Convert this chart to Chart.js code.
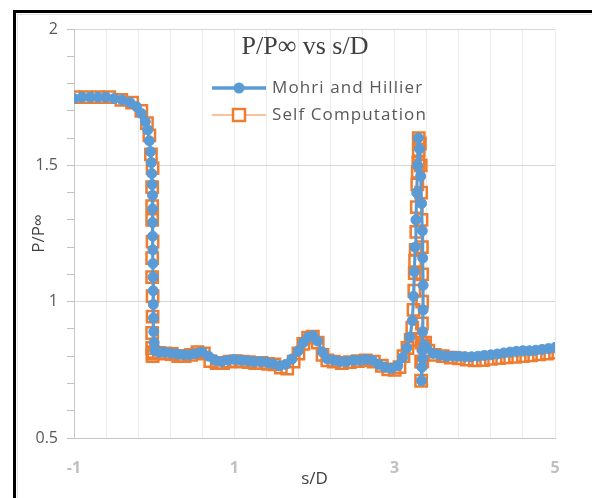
<!DOCTYPE html>
<html>
<head>
<meta charset="utf-8">
<script src="https://cdn.jsdelivr.net/npm/chart.js@4"></script>
<style>
  html, body { margin: 0; padding: 0; background: #fff; }
  #wrap { position: relative; width: 592px; height: 498px; overflow: hidden; }
  #frame { position: absolute; left: 13px; top: 10px; width: 700px; height: 700px;
           border-left: 3px solid #000; border-top: 3px solid #000; box-sizing: border-box; }
  #inner { position: absolute; left: 17px; top: 14px; width: 700px; height: 700px;
           border-left: 1px solid #e0e0e0; border-top: 1px solid #e0e0e0; box-sizing: border-box; }
  canvas { position: absolute; left: 0; top: 0; }
</style>
</head>
<body>
<div id="wrap">
  <div id="frame"></div>
  <div id="inner"></div>
  <canvas id="c" width="592" height="498"></canvas>
</div>
<script>
const chartTitle = 'P/P\u221E vs s/D';
const xTitle = 's/D';
const yTitle = 'P/P\u221E';
const seriesNames = ['Mohri and Hillier', 'Self Computation'];
const xTickLabels = [-1, 1, 3, 5];
const yTickLabels = [0.5, 1, 1.5, 2];

const mohriX = [-1.0,-0.9,-0.8,-0.7,-0.6,-0.5,-0.4,-0.3,-0.22,-0.16,-0.11,-0.08,-0.06,-0.045,-0.035,-0.03,-0.025,-0.02,-0.02,-0.02,-0.018,-0.016,-0.015,-0.013,-0.012,-0.01,-0.008,-0.005,0.0,0.01,
  0.06,0.12,0.2,0.28,0.36,0.44,0.52,0.6,0.68,0.76,0.84,0.92,1.0,1.08,1.16,1.24,1.32,1.4,1.48,1.56,1.64,1.72,
  1.8,1.86,1.92,1.98,2.04,2.1,2.16,
  2.24,2.32,2.4,2.48,2.56,2.64,2.72,2.8,2.88,2.96,3.04,3.1,3.15,3.19,
  3.22,3.235,3.245,3.255,3.265,3.275,3.285,3.295,
  3.31,3.325,3.335,3.345,3.35,3.355,3.355,3.35,3.345,3.34,
  3.335,3.35,3.37,3.4,
  3.48,3.56,3.64,3.72,3.8,3.88,3.96,4.04,4.12,4.2,4.28,4.36,4.44,4.52,4.6,4.68,4.76,4.84,4.92,5.0];
const mohriY = [1.745,1.75,1.75,1.75,1.75,1.745,1.74,1.73,1.715,1.69,1.66,1.63,1.59,1.55,1.51,1.47,1.43,1.39,1.34,1.29,1.24,1.19,1.14,1.09,1.04,0.99,0.94,0.89,0.85,0.82,
  0.815,0.815,0.812,0.808,0.805,0.805,0.81,0.815,0.80,0.785,0.78,0.785,0.788,0.785,0.783,0.78,0.78,0.778,0.772,0.765,0.77,0.79,
  0.82,0.85,0.87,0.875,0.855,0.815,0.79,
  0.785,0.78,0.78,0.785,0.785,0.788,0.785,0.77,0.76,0.755,0.765,0.795,0.83,0.87,
  0.93,1.02,1.11,1.2,1.3,1.4,1.5,1.6,
  1.56,1.46,1.36,1.26,1.16,1.06,0.97,0.89,0.82,0.76,
  0.71,0.79,0.84,0.83,
  0.81,0.805,0.80,0.80,0.80,0.798,0.798,0.80,0.803,0.805,0.808,0.812,0.815,0.818,0.82,0.82,0.822,0.825,0.828,0.832];

const selfX = [-0.99,-0.85,-0.7,-0.56,-0.41,-0.275,-0.16,-0.09,-0.06,-0.04,-0.02,-0.025,-0.025,-0.025,-0.02,-0.025,-0.025,-0.02,-0.02,-0.025,-0.025,-0.02,-0.02,-0.01,
  0.06,0.14,0.22,0.3,0.38,0.46,0.54,0.62,0.7,0.78,0.86,0.94,1.02,1.1,1.18,1.26,1.34,1.42,1.5,1.58,1.66,1.74,
  1.8,1.86,1.92,1.98,2.04,2.1,2.16,
  2.24,2.34,2.44,2.54,2.64,2.74,2.84,2.92,3.0,3.06,3.11,3.16,3.2,
  3.22,3.235,3.245,3.25,3.255,3.262,3.27,3.276,3.282,3.288,3.295,3.3,3.3,
  3.315,3.325,3.33,3.335,3.34,3.343,3.343,3.34,3.335,3.33,3.33,3.345,3.36,3.38,3.42,
  3.5,3.6,3.7,3.8,3.9,4.0,4.1,4.2,4.3,4.4,4.5,4.6,4.7,4.8,4.9,5.0];
const selfY = [1.75,1.75,1.75,1.75,1.74,1.73,1.70,1.655,1.61,1.54,1.49,1.42,1.35,1.30,1.22,1.16,1.09,1.02,0.945,0.885,0.83,0.81,0.80,0.815,
  0.812,0.81,0.808,0.80,0.80,0.805,0.815,0.81,0.782,0.775,0.775,0.78,0.782,0.78,0.778,0.775,0.775,0.772,0.77,0.758,0.755,0.78,
  0.81,0.845,0.868,0.872,0.85,0.805,0.785,
  0.78,0.775,0.778,0.782,0.785,0.78,0.765,0.752,0.75,0.76,0.80,0.83,0.86,
  0.905,0.97,1.04,1.105,1.15,1.19,1.256,1.347,1.43,1.476,1.51,1.556,1.60,
  1.58,1.50,1.40,1.30,1.20,1.10,1.00,0.92,0.85,0.78,0.71,0.78,0.84,0.85,0.82,
  0.805,0.80,0.795,0.792,0.788,0.785,0.786,0.79,0.793,0.796,0.798,0.80,0.803,0.807,0.81,0.813];

const blue = '#5b9bd5';
const orange = '#ed7d31';
const orangeLine = '#f4b183';

const toPts = (xs, ys) => xs.map((x, i) => ({ x: x, y: ys[i] }));

const overlay = {
  id: 'overlay',
  afterDraw(chart) {
    const ctx = chart.ctx;
    ctx.save();
    // title
    ctx.font = '26px "Liberation Serif"';
    ctx.fillStyle = '#404040';
    ctx.textAlign = 'center';
    ctx.textBaseline = 'middle';
    ctx.fillText(chartTitle, 305, 47);
    // legend
    const lx1 = 212, lx2 = 266, cx = 239, tx = 272;
    const rows = [88, 115];
    ctx.lineCap = 'butt';
    ctx.strokeStyle = blue; ctx.lineWidth = 3.5;
    ctx.beginPath(); ctx.moveTo(lx1, rows[0]); ctx.lineTo(lx2, rows[0]); ctx.stroke();
    ctx.fillStyle = blue;
    ctx.beginPath(); ctx.arc(cx, rows[0], 5.5, 0, Math.PI * 2); ctx.fill();
    ctx.strokeStyle = orangeLine; ctx.lineWidth = 1.5;
    ctx.beginPath(); ctx.moveTo(lx1, rows[1]); ctx.lineTo(lx2, rows[1]); ctx.stroke();
    ctx.fillStyle = '#fff';
    ctx.fillRect(cx - 6, rows[1] - 6, 12, 12);
    ctx.strokeStyle = orange; ctx.lineWidth = 2.5;
    ctx.strokeRect(cx - 6, rows[1] - 6, 12, 12);
    ctx.font = '17px "Open Sans"';
    if ('letterSpacing' in ctx) ctx.letterSpacing = '1.1px';
    ctx.fillStyle = '#595959';
    ctx.textAlign = 'left';
    ctx.textBaseline = 'middle';
    ctx.fillText(seriesNames[0], tx, rows[0]);
    ctx.fillText(seriesNames[1], tx, rows[1]);
    ctx.restore();
  }
};

const isNear = (v, list) => list.some(t => Math.abs(v - t) < 1e-6);

new Chart(document.getElementById('c'), {
  type: 'scatter',
  data: {
    datasets: [
      {
        label: seriesNames[0],
        data: toPts(mohriX, mohriY),
        showLine: true,
        borderColor: blue,
        backgroundColor: blue,
        borderWidth: 3,
        pointStyle: 'circle',
        pointRadius: 5,
        pointBackgroundColor: blue,
        pointBorderColor: blue,
        pointBorderWidth: 1
      },
      {
        label: seriesNames[1],
        data: toPts(selfX, selfY),
        showLine: true,
        borderColor: orangeLine,
        backgroundColor: 'rgba(0,0,0,0)',
        borderWidth: 1.5,
        pointStyle: 'rect',
        pointRadius: 8,
        pointBackgroundColor: 'rgba(0,0,0,0)',
        pointBorderColor: orange,
        pointBorderWidth: 2.5
      }
    ]
  },
  options: {
    responsive: false,
    animation: false,
    layout: { padding: { top: 29, right: 37, left: 0, bottom: 0 } },
    plugins: { legend: { display: false }, tooltip: { enabled: false }, title: { display: false } },
    scales: {
      x: {
        type: 'linear',
        min: -1, max: 5,
        afterFit(s) { s.height = 60; },
        ticks: {
          stepSize: 0.4,
          autoSkip: false,
          maxRotation: 0,
          padding: 21,
          color: '#c0c0c0',
          font: { family: 'Open Sans', size: 16, weight: 'bold' },
          callback: (v) => isNear(v, xTickLabels) ? String(Math.round(v)) : ''
        },
        grid: { color: '#ececec', drawTicks: false, lineWidth: 1 },
        border: { color: '#c8c8c8', width: 1 },
        title: { display: true, text: xTitle, color: '#404040', font: { family: 'Open Sans', size: 17 }, padding: { top: 9, bottom: 9 } }
      },
      y: {
        type: 'linear',
        min: 0.5, max: 2,
        afterFit(s) { s.width = 74; },
        ticks: {
          stepSize: 0.1,
          autoSkip: false,
          padding: 9,
          color: '#595959',
          font: { family: 'Open Sans', size: 16 },
          callback: (v) => isNear(v, yTickLabels) ? String(v) : ''
        },
        grid: {
          color: (c) => (c.tick && isNear(c.tick.value, yTickLabels)) ? '#d9d9d9' : 'rgba(0,0,0,0)',
          tickColor: '#bfbfbf',
          tickLength: 7,
          drawTicks: true
        },
        border: { color: '#c8c8c8', width: 1 },
        title: { display: true, text: yTitle, color: '#404040', font: { family: 'Open Sans', size: 17 }, padding: { top: 29, bottom: 29 } }
      }
    }
  },
  plugins: [overlay]
});
</script>
</body>
</html>
